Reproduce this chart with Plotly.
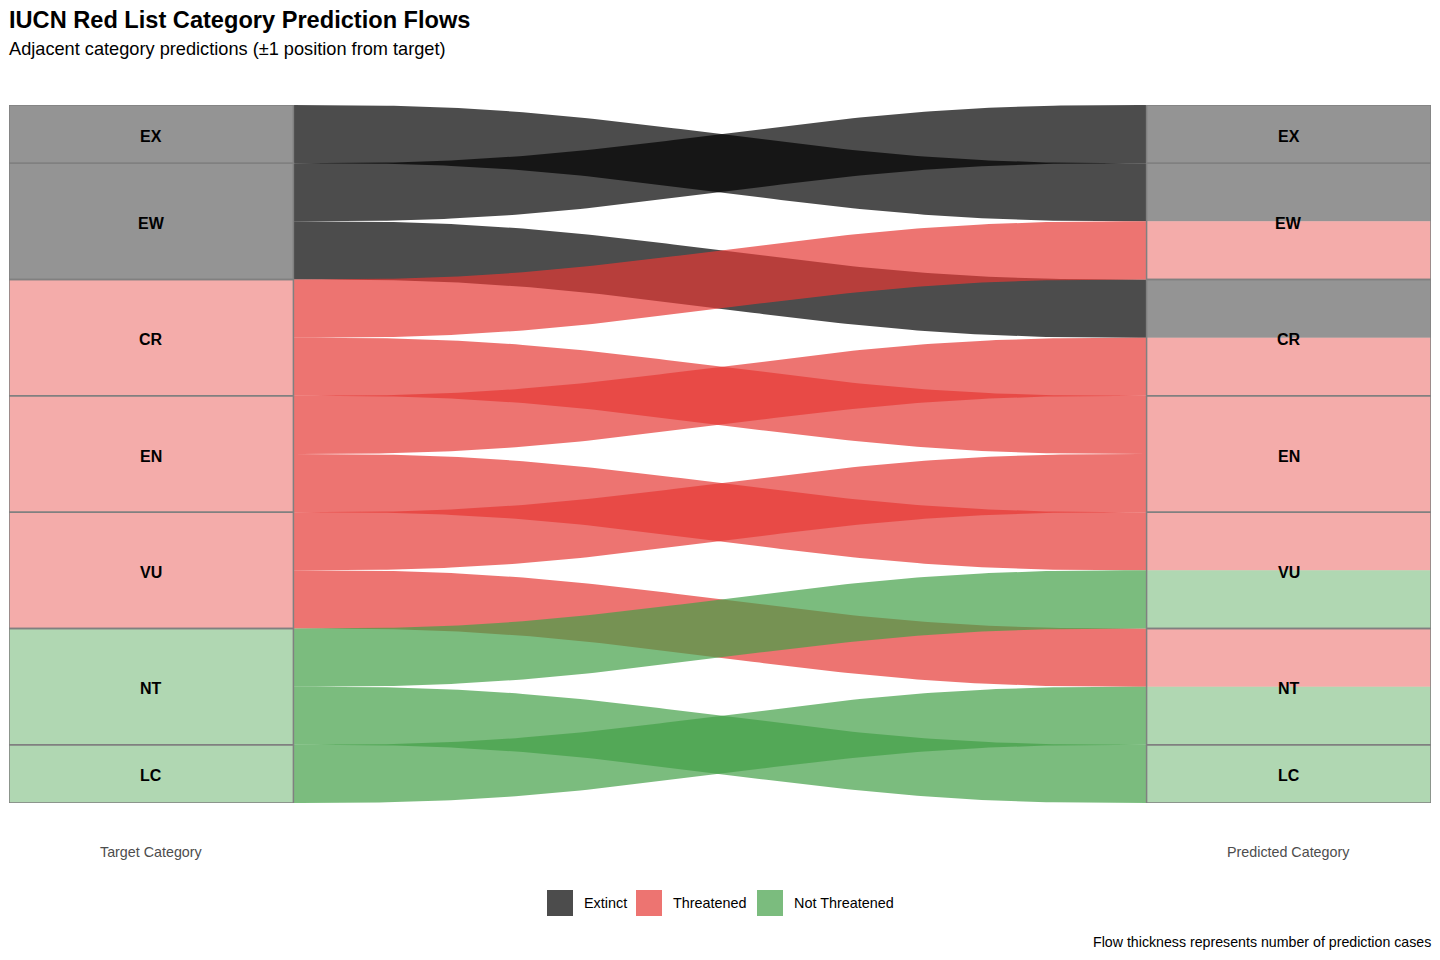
import plotly.graph_objects as go
import numpy as np

# ---------------- data ----------------
categories = ["EX", "EW", "CR", "EN", "VU", "NT", "LC"]
category_group = ["Extinct", "Extinct", "Threatened", "Threatened", "Threatened",
                  "Not Threatened", "Not Threatened"]
groups = ["Extinct", "Threatened", "Not Threatened"]
group_rgb = ["0,0,0", "229,57,53", "67,160,71"]

flow_target = ["EX", "EW", "EW", "CR", "CR", "EN", "EN", "VU", "VU", "NT", "NT", "LC"]
flow_predicted = ["EW", "EX", "CR", "EW", "EN", "CR", "VU", "EN", "NT", "VU", "LC", "NT"]
flow_cases = [1, 1, 1, 1, 1, 1, 1, 1, 1, 1, 1, 1]

axis_labels = ["Target Category", "Predicted Category"]
title = "IUCN Red List Category Prediction Flows"
subtitle = "Adjacent category predictions (±1 position from target)"
caption = "Flow thickness represents number of prediction cases"

# ---------------- layout constants ----------------
FONT = "Liberation Sans, Arial, Helvetica, sans-serif"
OFF = 8                      # default page body margin
W, H = 1440 - 2 * OFF, 960 - 2 * OFF
# plot area in page pixels
PX0, PX1, PY0, PY1 = 9, 1431, 105, 803
ML, MR = PX0 - OFF, W - (PX1 - OFF)
MT, MB = PY0 - OFF, H - (PY1 - OFF)
PW, PH = PX1 - PX0, PY1 - PY0
HALF = 0.125  # stratum half width (x units)


def px_x(p):
    return (p - PX0) / PW


def px_y(p):
    return (PY1 - p) / PH


cat_idx = {c: i for i, c in enumerate(categories)}
grp_of_cat = dict(zip(categories, category_group))
grp_idx = {g: i for i, g in enumerate(groups)}


def rgba(g, a):
    return f"rgba({group_rgb[grp_idx[g]]},{a})"


n = len(flow_cases)
flow_group = [grp_of_cat[t] for t in flow_target]

# ---------------- stacking ----------------
left_pos = [None] * n
y = 0.0
for c in categories:
    ids = sorted([i for i in range(n) if flow_target[i] == c],
                 key=lambda i: cat_idx[flow_predicted[i]])
    for i in ids:
        left_pos[i] = (y, y + flow_cases[i])
        y += flow_cases[i]
total = y

right_pos = [None] * n
y = 0.0
for c in categories:
    ids = sorted([i for i in range(n) if flow_predicted[i] == c],
                 key=lambda i: cat_idx[flow_target[i]])
    for i in ids:
        right_pos[i] = (y, y + flow_cases[i])
        y += flow_cases[i]

left_strata = {}
right_strata = {}
for i in range(n):
    a, b = left_pos[i]
    s = left_strata.setdefault(flow_target[i], [a, b])
    s[0], s[1] = min(s[0], a), max(s[1], b)
    a, b = right_pos[i]
    s = right_strata.setdefault(flow_predicted[i], [a, b])
    s[0], s[1] = min(s[0], a), max(s[1], b)

fig = go.Figure()


def rect_trace(x0, x1, y0, y1, fill, line_color=None, lw=0):
    return go.Scatter(
        x=[x0, x1, x1, x0, x0], y=[y0, y0, y1, y1, y0],
        mode="lines", fill="toself" if fill else None,
        fillcolor=fill, line=dict(width=lw, color=line_color or "rgba(0,0,0,0)"),
        hoverinfo="skip", showlegend=False)


# stratum fills: left per stratum
for c in categories:
    a, b = left_strata[c]
    fig.add_trace(rect_trace(1 - HALF, 1 + HALF, a, b, rgba(grp_of_cat[c], 0.42)))

# right: merge consecutive lodes of same group within stratum
for c in categories:
    ids = sorted([i for i in range(n) if flow_predicted[i] == c],
                 key=lambda i: right_pos[i][0])
    segs = []
    for i in ids:
        g = flow_group[i]
        if segs and segs[-1][0] == g:
            segs[-1][2] = right_pos[i][1]
        else:
            segs.append([g, right_pos[i][0], right_pos[i][1]])
    for g, a, b in segs:
        fig.add_trace(rect_trace(2 - HALF, 2 + HALF, a, b, rgba(g, 0.42)))

# flows
t = np.linspace(0, 1, 120)
s = 6 * t**5 - 15 * t**4 + 10 * t**3
xs = (1 + HALF) + (1 - 2 * HALF) * t
for g in groups:
    for i in range(n):
        if flow_group[i] != g:
            continue
        (la, lb), (ra, rb) = left_pos[i], right_pos[i]
        top = la + (ra - la) * s
        bot = lb + (rb - lb) * s
        fig.add_trace(go.Scatter(
            x=np.concatenate([xs, xs[::-1], xs[:1]]),
            y=np.concatenate([top, bot[::-1], top[:1]]),
            mode="lines", fill="toself", fillcolor=rgba(g, 0.7),
            line=dict(width=0, color="rgba(0,0,0,0)"),
            hoverinfo="skip", showlegend=False))

# stratum outlines
for c in categories:
    a, b = left_strata[c]
    fig.add_trace(rect_trace(1 - HALF, 1 + HALF, a, b, None, "rgb(128,128,128)", 1.5))
    a, b = right_strata[c]
    fig.add_trace(rect_trace(2 - HALF, 2 + HALF, a, b, None, "rgb(128,128,128)", 1.5))

annotations = []
# stratum labels
for c in categories:
    for xpos, strata in ((1, left_strata), (2, right_strata)):
        a, b = strata[c]
        annotations.append(dict(text=f"<b>{c}</b>", x=xpos, y=(a + b) / 2,
                                xref="x", yref="y", showarrow=False,
                                xanchor="center", yanchor="middle", yshift=-2,
                                font=dict(family=FONT, size=16, color="black")))

annotations += [
    dict(text=f"<b>{title}</b>", x=0, y=px_y(20), xref="paper", yref="paper",
         xanchor="left", yanchor="middle", showarrow=False, xshift=-2,
         font=dict(family=FONT, size=23.6, color="black")),
    dict(text=subtitle, x=0, y=px_y(49), xref="paper", yref="paper",
         xanchor="left", yanchor="middle", showarrow=False, xshift=-2,
         font=dict(family=FONT, size=18.2, color="black")),
    dict(text=caption, x=1, y=px_y(942), xref="paper", yref="paper",
         xanchor="right", yanchor="middle", showarrow=False, xshift=2,
         font=dict(family=FONT, size=14.2, color="black")),
]
for k, lab in enumerate(axis_labels):
    annotations.append(dict(text=lab, x=k + 1, y=px_y(852), xref="x", yref="paper",
                            xanchor="center", yanchor="middle", showarrow=False,
                            font=dict(family=FONT, size=14.3, color="#4d4d4d")))

shapes = []
key_left = [547, 636, 757]
for g, kx in zip(groups, key_left):
    shapes.append(dict(type="rect", xref="paper", yref="paper",
                       x0=px_x(kx), x1=px_x(kx + 26), y0=px_y(916), y1=px_y(890),
                       fillcolor=rgba(g, 0.7), line=dict(width=0)))
    annotations.append(dict(text=g, x=px_x(kx + 37), y=px_y(903), xref="paper", yref="paper",
                            xanchor="left", yanchor="middle", showarrow=False, xshift=-2,
                            font=dict(family=FONT, size=14.4, color="black")))

fig.update_layout(
    width=W, height=H, autosize=False,
    margin=dict(l=ML, r=MR, t=MT, b=MB, pad=0),
    paper_bgcolor="white", plot_bgcolor="white",
    showlegend=False,
    xaxis=dict(range=[1 - HALF, 2 + HALF], showgrid=False, zeroline=False,
               showticklabels=False, ticks="", showline=False, fixedrange=True),
    yaxis=dict(range=[total, 0], showgrid=False, zeroline=False,
               showticklabels=False, ticks="", showline=False, fixedrange=True),
    annotations=annotations, shapes=shapes,
    font=dict(family=FONT),
)

fig.write_html("out.html")
